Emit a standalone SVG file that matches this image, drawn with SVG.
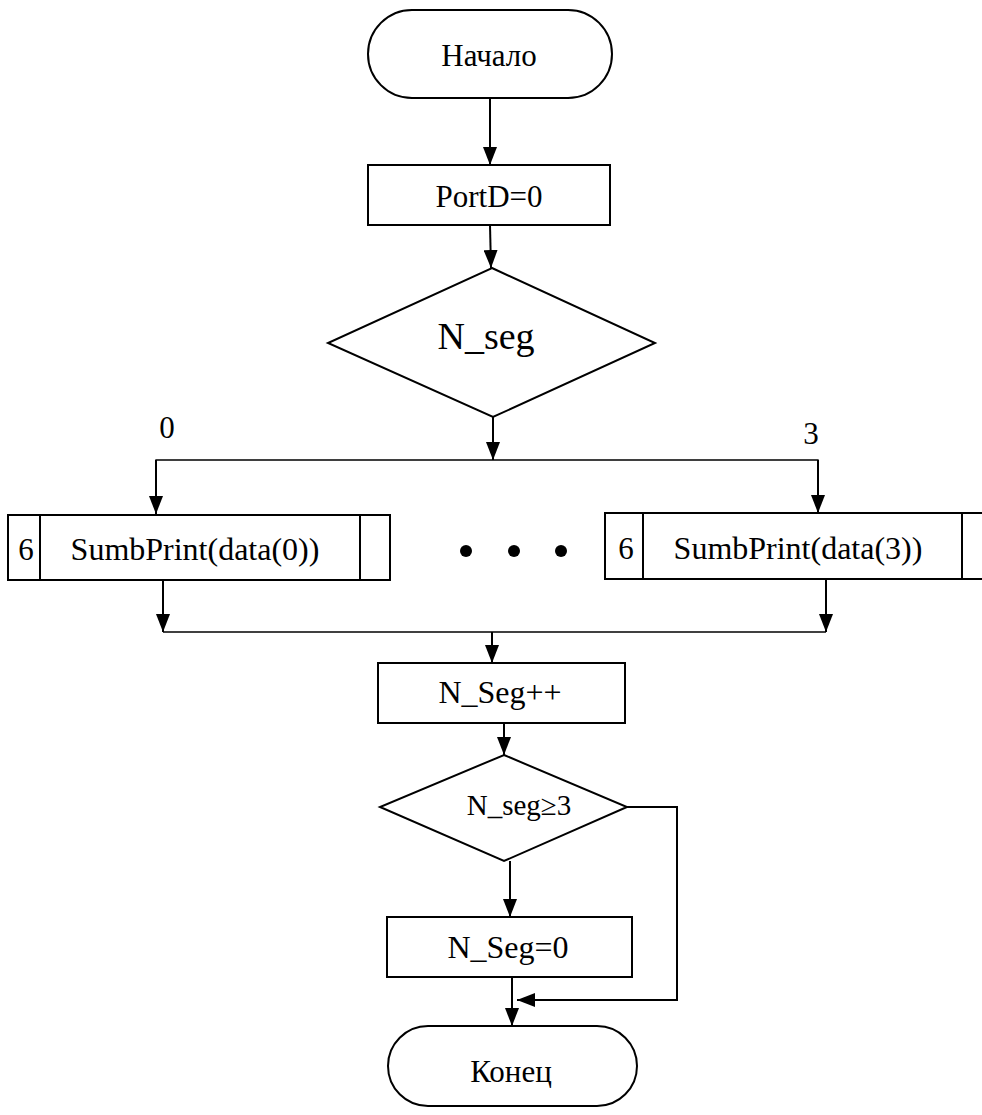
<svg xmlns="http://www.w3.org/2000/svg" width="982" height="1115" viewBox="0 0 982 1115">
<defs>
<style>
.s{fill:#fff;stroke:#000;stroke-width:2}
.t{font-family:"Liberation Serif","Times New Roman",serif;fill:#000;text-anchor:middle}
.c{fill:none;stroke:#000;stroke-width:2}
.h{fill:none;stroke:#000;stroke-width:1.3}
</style>
<marker id="a" viewBox="0 0 18 14" refX="18" refY="7" markerWidth="18" markerHeight="14" markerUnits="userSpaceOnUse" orient="auto">
<path d="M0,0 L18,7 L0,14 z" fill="#000"/>
</marker>
</defs>
<rect width="982" height="1115" fill="#fff"/>
<g id="connectors">
<line class="c" x1="490" y1="99" x2="490" y2="165" marker-end="url(#a)"/>
<line class="c" x1="490" y1="225" x2="491" y2="268" marker-end="url(#a)"/>
<line class="c" x1="493" y1="417" x2="493" y2="460" marker-end="url(#a)"/>
<polyline class="h" points="156,482 156,460 818,460 818,482"/>
<line class="c" x1="156" y1="460" x2="156" y2="514" marker-end="url(#a)"/>
<line class="c" x1="818" y1="460" x2="818" y2="513" marker-end="url(#a)"/>
<line class="c" x1="163" y1="580" x2="163" y2="632" marker-end="url(#a)"/>
<line class="c" x1="826" y1="579" x2="826" y2="632" marker-end="url(#a)"/>
<line class="h" x1="163" y1="632" x2="826" y2="632"/>
<line class="c" x1="492" y1="632" x2="492" y2="663" marker-end="url(#a)"/>
<line class="c" x1="504" y1="723" x2="504" y2="755" marker-end="url(#a)"/>
<line class="c" x1="510" y1="861" x2="510" y2="917" marker-end="url(#a)"/>
<line class="c" x1="512" y1="977" x2="512" y2="1026" marker-end="url(#a)"/>
<polyline class="c" points="627,807 677,807 677,1000 517,1000" marker-end="url(#a)"/>
</g>
<g id="start">
<rect class="s" x="368" y="10" width="244" height="88" rx="44" ry="44"/>
<text class="t" x="489" y="66" font-size="31">Начало</text>
</g>
<g id="portd">
<rect class="s" x="368" y="165" width="242" height="60"/>
<text class="t" x="489" y="207" font-size="31">PortD=0</text>
</g>
<g id="nseg">
<polygon class="s" points="492,268 655,343 493,417 328,343"/>
<text class="t" x="486" y="349" font-size="38">N_seg</text>
</g>
<g id="label0"><text class="t" x="167" y="438" font-size="31">0</text></g>
<g id="label3"><text class="t" x="811" y="444" font-size="31">3</text></g>
<g id="sub0">
<rect class="s" x="8" y="515" width="382" height="65"/>
<line class="c" x1="40" y1="515" x2="40" y2="580"/>
<line class="c" x1="360" y1="515" x2="360" y2="580"/>
<text class="t" x="26" y="560" font-size="31">6</text>
<text class="t" x="195" y="560" font-size="32">SumbPrint(data(0))</text>
</g>
<g id="dots">
<circle cx="466" cy="551" r="6"/>
<circle cx="514" cy="551" r="6"/>
<circle cx="561" cy="551" r="6"/>
</g>
<g id="sub3">
<rect class="s" x="605" y="513" width="400" height="66"/>
<line class="c" x1="643" y1="513" x2="643" y2="579"/>
<line class="c" x1="962" y1="513" x2="962" y2="579"/>
<text class="t" x="626" y="559" font-size="31">6</text>
<text class="t" x="798" y="559" font-size="32">SumbPrint(data(3))</text>
</g>
<g id="inc">
<rect class="s" x="378" y="663" width="247" height="60"/>
<text class="t" x="500" y="703" font-size="32">N_Seg++</text>
</g>
<g id="cond">
<polygon class="s" points="504,755 627,807 504,861 380,807"/>
<text class="t" x="519" y="815" font-size="29">N_seg≥3</text>
</g>
<g id="reset">
<rect class="s" x="387" y="917" width="245" height="60"/>
<text class="t" x="508" y="958" font-size="32">N_Seg=0</text>
</g>
<g id="end">
<rect class="s" x="388" y="1026" width="249" height="80" rx="40" ry="40"/>
<text class="t" x="511" y="1082" font-size="31">Конец</text>
</g>
</svg>
